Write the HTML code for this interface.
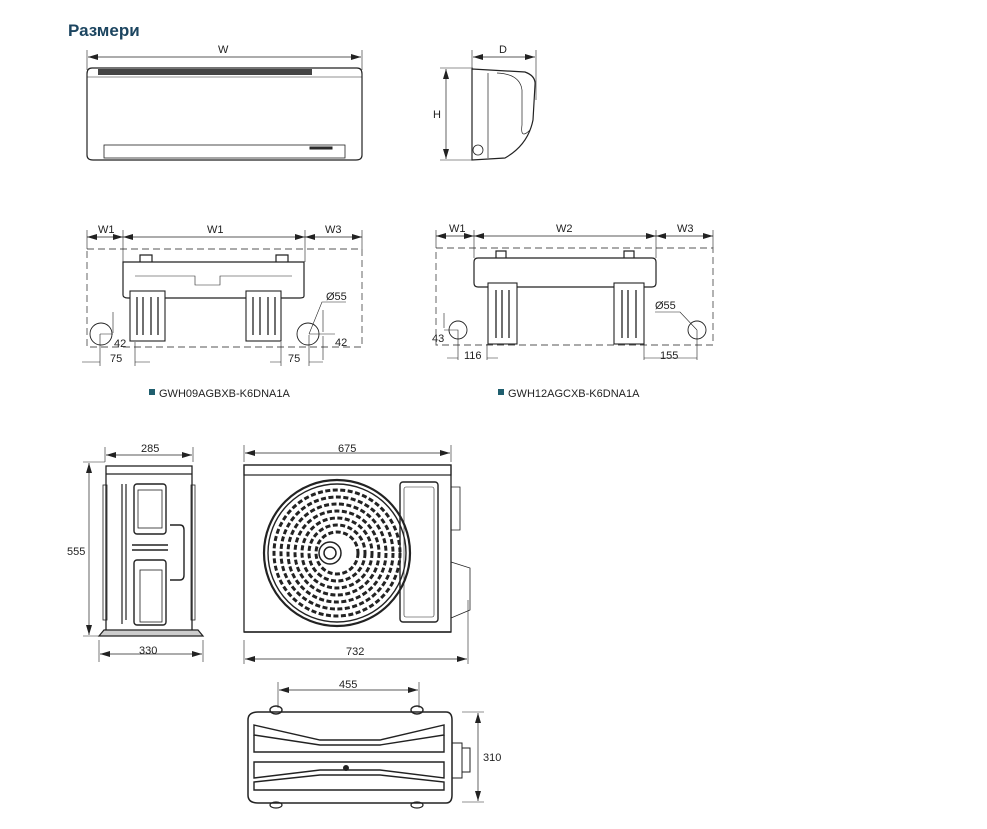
<!DOCTYPE html>
<html><head><meta charset="utf-8"><style>
html,body{margin:0;padding:0;background:#fff;width:987px;height:829px;overflow:hidden}
svg{display:block}
text{font-family:"Liberation Sans",sans-serif;font-size:11px;fill:#222}
</style></head><body>
<svg width="987" height="829" viewBox="0 0 987 829" xmlns="http://www.w3.org/2000/svg">
<defs>
<marker id="a" markerWidth="10" markerHeight="6" refX="10" refY="3" orient="auto-start-reverse" markerUnits="userSpaceOnUse"><path d="M0,0 L10,3 L0,6z" fill="#222"/></marker>
</defs>
<text x="68" y="36" style="font-size:17px;font-weight:bold;fill:#1c4560">Размери</text>
<g stroke="#222" fill="none" stroke-width="1">
<!-- indoor front -->
<line x1="87" y1="50" x2="87" y2="70" stroke-width=".6"/><line x1="362" y1="50" x2="362" y2="70" stroke-width=".6"/>
<line x1="88" y1="57" x2="361" y2="57" marker-start="url(#a)" marker-end="url(#a)" stroke-width=".7"/>
<path d="M92,68 H357 Q362,68 362,74 V155 Q362,160 356,160 H93 Q87,160 87,155 V74 Q87,68 92,68z" stroke-width="1.2"/>
<rect x="98" y="69" width="214" height="6" fill="#444" stroke="none"/>
<line x1="87" y1="77" x2="362" y2="77" stroke-width=".5"/>
<rect x="104" y="145" width="241" height="13" stroke-width=".8"/>
<rect x="310" y="147" width="22" height="2" fill="#333"/>
<!-- side view -->
<line x1="472" y1="50" x2="472" y2="70" stroke-width=".6"/><line x1="536" y1="50" x2="536" y2="100" stroke-width=".6"/>
<line x1="473" y1="57" x2="535" y2="57" marker-start="url(#a)" marker-end="url(#a)" stroke-width=".7"/>
<line x1="440" y1="68" x2="473" y2="68" stroke-width=".6"/><line x1="440" y1="160" x2="473" y2="160" stroke-width=".6"/>
<line x1="446" y1="69" x2="446" y2="159" marker-start="url(#a)" marker-end="url(#a)" stroke-width=".7"/>
<path d="M472,69 L525,72 Q536,76 535,85 L533,120 Q528,145 505,158 L472,160z" stroke-width="1.2"/>
<path d="M488,73 V158 M497,73 Q520,74 522,90 V125 Q520,140 530,130" stroke-width=".7"/>
<circle cx="478" cy="150" r="5" stroke-width=".8"/>
<!-- bracket 1 -->
<rect x="87" y="249" width="275" height="98" stroke-dasharray="7,4" stroke-width=".9" stroke="#555"/>
<g stroke-width=".6"><line x1="87" y1="230" x2="87" y2="249"/><line x1="123" y1="230" x2="123" y2="262"/><line x1="305" y1="230" x2="305" y2="262"/><line x1="362" y1="230" x2="362" y2="249"/></g>
<line x1="87" y1="237" x2="362" y2="237" stroke-width=".7"/>
<path d="M87,237 l10,-3 v6z M123,237 l-10,-3 v6z M123,237 l10,-3 v6z M305,237 l-10,-3 v6z M305,237 l10,-3 v6z M362,237 l-10,-3 v6z" fill="#222" stroke="none"/>
<path d="M125,262 H304 V296 Q304,298 300,298 H128 Q123,298 123,295 V262z" stroke-width="1.2"/>
<path d="M140,262 V255 H152 V262 M276,262 V255 H288 V262" stroke-width="1.2"/>
<path d="M135,276 H195 V285 H220 V276 H292" stroke-width=".6"/>
<rect x="130" y="291" width="35" height="50" stroke-width="1.1" fill="#fff"/>
<rect x="246" y="291" width="35" height="50" stroke-width="1.1" fill="#fff"/>
<path d="M137,297 V335 M143,297 V335 M151,297 V335 M158,297 V335 M253,297 V335 M260,297 V335 M268,297 V335 M275,297 V335" stroke-width="1.3"/>
<circle cx="101" cy="334" r="11" stroke-width=".9"/>
<circle cx="308" cy="334" r="11" stroke-width=".9"/>
<path d="M100,334 H113 M113,312 V333 M100,334 V366 M135,342 V366 M82,362 H100 M135,362 H150" stroke-width=".6"/>
<path d="M309,334 H335 M323,310 V332 M323,336 V360 M309,335 V366 M281,342 V366 M270,362 H281 M309,362 H323" stroke-width=".6"/>
<path d="M309,334 L322,302 H346" stroke-width=".6"/>
<!-- bracket 2 -->
<rect x="436" y="248" width="277" height="97" stroke-dasharray="7,4" stroke-width=".9" stroke="#555"/>
<g stroke-width=".6"><line x1="436" y1="230" x2="436" y2="248"/><line x1="474" y1="230" x2="474" y2="258"/><line x1="656" y1="230" x2="656" y2="258"/><line x1="713" y1="230" x2="713" y2="248"/></g>
<line x1="436" y1="236" x2="713" y2="236" stroke-width=".7"/>
<path d="M436,236 l10,-3 v6z M474,236 l-10,-3 v6z M474,236 l10,-3 v6z M656,236 l-10,-3 v6z M656,236 l10,-3 v6z M713,236 l-10,-3 v6z" fill="#222" stroke="none"/>
<path d="M478,258 H652 Q656,258 656,262 V283 Q656,287 652,287 H478 Q474,287 474,283 V262 Q474,258 478,258z" stroke-width="1.2"/>
<path d="M496,258 V251 H506 V258 M624,258 V251 H634 V258" stroke-width="1.2"/>
<rect x="488" y="283" width="29" height="61" stroke-width="1.1" fill="#fff"/>
<rect x="614" y="283" width="30" height="61" stroke-width="1.1" fill="#fff"/>
<path d="M496,290 V338 M502,290 V338 M509,290 V338 M622,290 V338 M628,290 V338 M636,290 V338" stroke-width="1.3"/>
<circle cx="458" cy="330" r="9" stroke-width=".9"/>
<circle cx="697" cy="330" r="9" stroke-width=".9"/>
<path d="M444,330 H458 V360 M444,313 V328 M487,344 V360 M447,358 H458 M487,358 H498" stroke-width=".6"/>
<path d="M697,330 V360 M644,344 V360 M644,358 H697 M697,330 L680,312 H655" stroke-width=".6"/>
</g>
<text x="98" y="233">W1</text><text x="207" y="233">W1</text><text x="325" y="233">W3</text>
<text x="449" y="232">W1</text><text x="556" y="232">W2</text><text x="677" y="232">W3</text>
<text x="218" y="53">W</text><text x="499" y="53">D</text><text x="433" y="118">H</text>
<text x="114" y="347">42</text><text x="110" y="362">75</text><text x="288" y="362">75</text><text x="335" y="346">42</text><text x="326" y="300">Ø55</text>
<text x="432" y="342">43</text><text x="464" y="359">116</text><text x="660" y="359">155</text><text x="655" y="309">Ø55</text>
<rect x="149" y="389" width="6" height="6" fill="#1f5e6e"/><text x="159" y="397">GWH09AGBXB-K6DNA1A</text>
<rect x="498" y="389" width="6" height="6" fill="#1f5e6e"/><text x="508" y="397">GWH12AGCXB-K6DNA1A</text>
<!-- outdoor side -->
<g stroke="#222" fill="none">
<path d="M105,447 V462 M193,447 V462 M99,640 V662 M203,640 V662 M83,462 H105 M83,636 H99" stroke-width=".6"/>
<line x1="106" y1="455" x2="192" y2="455" marker-start="url(#a)" marker-end="url(#a)" stroke-width=".7"/>
<line x1="100" y1="654" x2="202" y2="654" marker-start="url(#a)" marker-end="url(#a)" stroke-width=".7"/>
<line x1="89" y1="463" x2="89" y2="635" marker-start="url(#a)" marker-end="url(#a)" stroke-width=".7"/>
<rect x="106" y="466" width="86" height="166" stroke-width="1.3"/>
<line x1="106" y1="474" x2="192" y2="474" stroke-width="1.2"/>
<rect x="103" y="485" width="4" height="135" stroke-width=".8"/><rect x="191" y="485" width="4" height="135" stroke-width=".8"/>
<path d="M122,484 V624 M126,484 V620" stroke-width="1.2"/>
<rect x="134" y="484" width="32" height="50" rx="3" stroke-width="1.4"/>
<rect x="138" y="490" width="24" height="38" stroke-width=".8"/>
<path d="M170,525 H180 Q184,525 184,530 V575 Q184,580 180,580 H170" stroke-width="1.4"/>
<path d="M132,545 H168 M132,550 H168" stroke-width="1.6"/>
<rect x="134" y="560" width="32" height="65" rx="3" stroke-width="1.4"/>
<rect x="140" y="570" width="22" height="52" stroke-width=".8"/>
<path d="M99,636 H203 L198,630 H104z" stroke-width="1.2" fill="#ccc"/>
<!-- outdoor front -->
<path d="M244,445 V462 M451,445 V462 M244,640 V664 M468,600 V664" stroke-width=".6"/>
<line x1="245" y1="453" x2="450" y2="453" marker-start="url(#a)" marker-end="url(#a)" stroke-width=".7"/>
<line x1="245" y1="659" x2="467" y2="659" marker-start="url(#a)" marker-end="url(#a)" stroke-width=".7"/>
<rect x="244" y="465" width="207" height="167" stroke-width="1.3"/>
<rect x="244" y="465" width="207" height="10" stroke-width="1.2"/>
<rect x="400" y="482" width="38" height="140" rx="3" stroke-width="1.4"/>
<rect x="404" y="487" width="30" height="130" rx="2" stroke-width=".6"/>
<path d="M451,487 H460 V530 H451 M451,562 L470,568 V610 L451,618" stroke-width=".8"/>
<circle cx="337" cy="553" r="73" stroke-width="2.2"/>
<circle cx="337" cy="553" r="69" stroke-width="1.4"/>
<g stroke-width="3" stroke-dasharray="5,2.5">
<circle cx="337" cy="553" r="63"/><circle cx="337" cy="553" r="56"/><circle cx="337" cy="553" r="49"/><circle cx="337" cy="553" r="42"/><circle cx="337" cy="553" r="35"/><circle cx="337" cy="553" r="28"/><circle cx="337" cy="553" r="21"/>
</g>
<circle cx="330" cy="553" r="11" fill="#fff" stroke-width="1.5"/>
<circle cx="330" cy="553" r="6" stroke-width="1.5"/>
<path d="M244,632 H451" stroke-width="1.5"/>
<!-- top view -->
<path d="M278,682 V708 M419,682 V708 M462,712 H484 M462,802 H484" stroke-width=".6"/>
<line x1="279" y1="690" x2="418" y2="690" marker-start="url(#a)" marker-end="url(#a)" stroke-width=".7"/>
<line x1="478" y1="713" x2="478" y2="801" marker-start="url(#a)" marker-end="url(#a)" stroke-width=".7"/>
<path d="M258,712 H446 Q452,712 452,720 V795 Q452,803 446,803 H258 Q248,803 248,795 V720 Q248,712 258,712z" stroke-width="1.5"/>
<path d="M254,725 L320,740 H380 L444,725 V735 L380,745 H320 L254,735z" stroke-width="1.4"/>
<path d="M254,735 V752 H444 V735" stroke-width="1.4"/>
<path d="M254,762 H444 V778 L380,770 H320 L254,778z" stroke-width="1.4"/>
<path d="M254,782 L320,775 H380 L444,782 V790 H254z" stroke-width="1.4"/>
<ellipse cx="276" cy="710" rx="6" ry="4" stroke-width="1.4"/><ellipse cx="417" cy="710" rx="6" ry="4" stroke-width="1.4"/>
<ellipse cx="276" cy="805" rx="6" ry="3" stroke-width="1.2"/><ellipse cx="417" cy="805" rx="6" ry="3" stroke-width="1.2"/>
<path d="M452,743 H462 V778 H452 M462,748 H470 V772 H462" stroke-width="1"/>
<circle cx="346" cy="768" r="2.5" fill="#222"/>
</g>
<text x="141" y="452">285</text><text x="338" y="452">675</text><text x="67" y="555">555</text>
<text x="139" y="654">330</text><text x="346" y="655">732</text>
<text x="339" y="688">455</text><text x="483" y="761">310</text>
</svg>
</body></html>
